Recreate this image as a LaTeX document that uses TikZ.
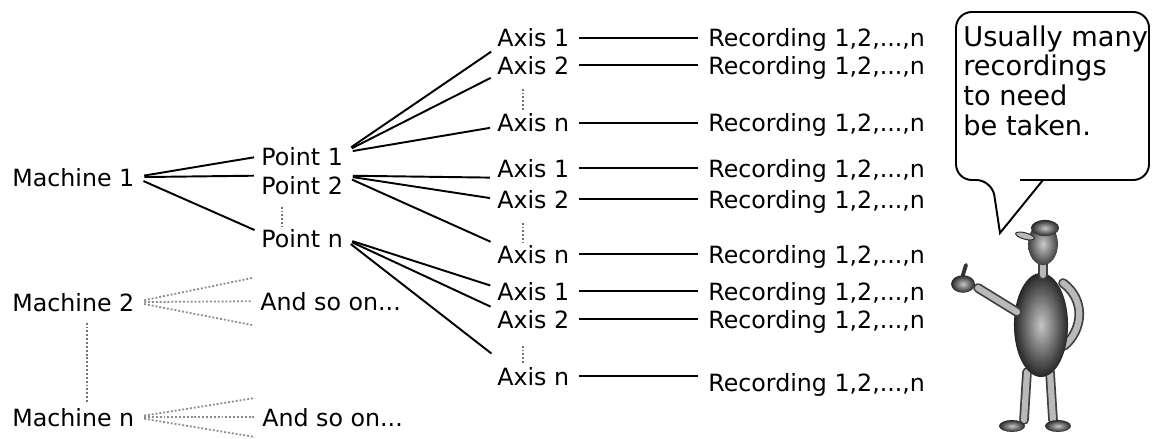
\documentclass[tikz,border=0pt]{standalone}
\usepackage{fontspec}
\setmainfont{DejaVu Sans}

\begin{document}
\begin{tikzpicture}[x=0.02cm, y=-0.02cm,
    lbl/.style={anchor=base west, inner sep=0pt, font=\fontsize{13.5}{16}\selectfont},
    branch/.style={line width=1.1pt, shorten <=5.5pt, shorten >=4pt},
    rec/.style={line width=1.3pt, shorten <=5.5pt, shorten >=5.5pt},
    dots/.style={black!55, line width=1pt, dash pattern=on 1.1pt off 1.1pt},
    fan/.style={dots, black!45, shorten <=5.5pt},
    limb/.style={draw=black!75, line width=1pt, double=gray!55, double distance=3.5pt, line cap=round},
    dark/.style={inner color=gray!45, outer color=black!85}]
        \useasboundingbox (0,0) rectangle (1152,439);

        % stroje
        \node[lbl] (m1) at (12,186) {Machine 1};
        \node[lbl] (m2) at (12,311) {Machine 2};
        \node[lbl] (mn) at (12,426) {Machine n};

        % body
        \node[lbl] (p1) at (261,165) {Point 1};
        \node[lbl] (p2) at (261,194) {Point 2};
        \node[lbl] (pn) at (261,247) {Point n};
        \node[lbl] (s1) at (260,310) {And so on...};
        \node[lbl] (s2) at (262,426) {And so on...};

        % osy
        \node[lbl] (a1) at (497,47) {Axis 1};
        \node[lbl] (a2) at (497,74) {Axis 2};
        \node[lbl] (an) at (497,132) {Axis n};
        \node[lbl] (b1) at (497,177) {Axis 1};
        \node[lbl] (b2) at (497,208) {Axis 2};
        \node[lbl] (bn) at (497,263) {Axis n};
        \node[lbl] (c1) at (497,300) {Axis 1};
        \node[lbl] (c2) at (497,328) {Axis 2};
        \node[lbl] (cn) at (497,385) {Axis n};

        % zaznamy
        \node[lbl] (ra1) at (708,47) {Recording 1,2,...,n};
        \node[lbl] (ra2) at (708,74) {Recording 1,2,...,n};
        \node[lbl] (ran) at (708,132) {Recording 1,2,...,n};
        \node[lbl] (rb1) at (708,177) {Recording 1,2,...,n};
        \node[lbl] (rb2) at (708,208) {Recording 1,2,...,n};
        \node[lbl] (rbn) at (708,263) {Recording 1,2,...,n};
        \node[lbl] (rc1) at (708,300) {Recording 1,2,...,n};
        \node[lbl] (rc2) at (708,328) {Recording 1,2,...,n};
        \node[lbl] (rcn) at (708,391) {Recording 1,2,...,n};

        % stroj 1 -> body
        \draw[branch] (m1.east) -- (p1.west);
        \draw[branch] (m1.east) -- (p2.north west);
        \draw[branch] (m1.east) -- ([yshift=3pt]pn.west);

        % body -> osy
        \draw[branch] ([yshift=2pt]p1.east) -- (a1.south west);
        \draw[branch] ([yshift=2pt]p1.east) -- (a2.south west);
        \draw[branch] ([yshift=2pt]p1.east) -- ([yshift=-2pt]an.west);
        \draw[branch] (p2.north east) -- (b1.south west);
        \draw[branch] (p2.north east) -- (b2.west);
        \draw[branch] (p2.north east) -- (bn.north west);
        \draw[branch] (pn.east) -- ([yshift=2pt]c1.west);
        \draw[branch] (pn.east) -- (c2.north west);
        \draw[branch] (pn.east) -- ([yshift=5pt]cn.north west);

        % osy -> zaznamy
        \draw[rec] (a1.east) -- (a1.east -| ra1.west);
        \draw[rec] (a2.east) -- (a2.east -| ra2.west);
        \draw[rec] (an.east) -- (an.east -| ran.west);
        \draw[rec] (b1.east) -- (b1.east -| rb1.west);
        \draw[rec] (b2.east) -- (b2.east -| rb2.west);
        \draw[rec] (bn.east) -- (bn.east -| rbn.west);
        \draw[rec] (c1.east) -- (c1.east -| rc1.west);
        \draw[rec] (c2.east) -- (c2.east -| rc2.west);
        \draw[rec] (cn.east) -- (cn.east -| rcn.west);

        % tecky mezi polozkami
        \draw[dots] ([shift={(75,11)}]m2.south west) -- ([shift={(75,-4)}]mn.north west);
        \draw[dots] ([shift={(21,12)}]p2.south west) -- ([shift={(21,-2)}]pn.north west);
        \draw[dots] ([shift={(26,14)}]a2.south west) -- ([shift={(26,-4)}]an.north west);
        \draw[dots] ([shift={(26,14)}]b2.south west) -- ([shift={(26,-2)}]bn.north west);
        \draw[dots] ([shift={(26,17)}]c2.south west) -- ([shift={(26,-2)}]cn.north west);

        % stroje 2 a n
        \coordinate (f1a) at (252,278);
        \coordinate (f1b) at (252,325);
        \coordinate (f2a) at (255,398);
        \coordinate (f2b) at (255,437);
        \draw[fan] (m2.east) -- (f1a);
        \draw[fan, shorten >=4.5pt] (m2.east) -- (s1.west);
        \draw[fan] (m2.east) -- (f1b);
        \draw[fan] (mn.east) -- (f2a);
        \draw[fan, shorten >=4.5pt] (mn.east) -- (s2.west);
        \draw[fan] (mn.east) -- (f2b);

        % bublina
        \draw[line width=1.1pt, rounded corners=9pt] (1020,180) -- (1149,180)
        -- (1149,12) -- (956,12) -- (956,180) -- (992,180)
        [sharp corners] -- (1000,233) -- (1043,180) -- cycle;
        \node[anchor=north west, inner sep=0pt, align=left,
            font=\fontsize{15.5}{17}\selectfont] (note) at (963,25)
            {Usually many\\recordings\\to need\\be taken.};

        % panacek
        \draw[limb] (1027,372) -- (1024,420);
        \draw[limb] (1050,372) -- (1053,420);
        \shade[dark] (1012,426) ellipse [x radius=7.4pt, y radius=3.4pt];
        \shade[dark] (1058,426) ellipse [x radius=7.4pt, y radius=3.4pt];
        \draw[limb] (1063,283) .. controls (1086,300) and (1083,330) .. (1064,346);
        \shade[dark] (1041,325) ellipse [x radius=15.4pt, y radius=29.6pt];
        \draw[limb] (1017,312) -- (978,288);
        \draw[black!80, line width=2.2pt, line cap=round] (962,278) -- (966,265);
        \shade[dark] (963,284) ellipse [x radius=6.8pt, y radius=5pt];
        \draw[limb] (1043,262) -- (1043,275);
        \shade[inner color=gray!40, outer color=black!75] (1043,244) ellipse [x radius=8.5pt, y radius=12pt];
        \shade[dark] (1045,228) ellipse [x radius=8pt, y radius=4.6pt];
        \filldraw[fill=gray!55, draw=black!80, line width=0.6pt] (1025,236) ellipse [x radius=5.5pt, y radius=1.8pt, rotate=-15];

    \end{tikzpicture}
\end{document}
